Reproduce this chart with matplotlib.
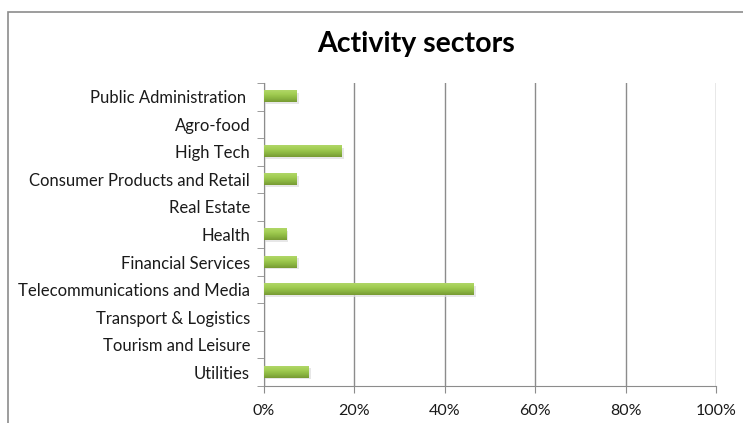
import matplotlib
matplotlib.use("Agg")
import matplotlib.pyplot as plt
import numpy as np
from matplotlib.patches import Rectangle
from matplotlib.colors import LinearSegmentedColormap
from matplotlib.ticker import PercentFormatter

categories = ["Public Administration ", "Agro-food", "High Tech", "Consumer Products and Retail",
              "Real Estate", "Health", "Financial Services", "Telecommunications and Media",
              "Transport & Logistics", "Tourism and Leisure", "Utilities"]
values = [7.3, 0, 17.1, 7.3, 0, 4.9, 7.3, 46.3, 0, 0, 9.8]
xticks = [0, 20, 40, 60, 80, 100]

plt.rcParams['font.family'] = ['Lato', 'DejaVu Sans']

W, H = 743, 423
fig = plt.figure(figsize=(W/100, H/100), dpi=100)
fig.patch.set_facecolor('white')
# outer chart frame
fig.patches.append(Rectangle((8/W, -0.1), 1.2, 1 - 12/H + 0.1, transform=fig.transFigure,
                             fill=False, edgecolor='#8c8c8c', linewidth=1.2))

ax = fig.add_axes([264/W, 1 - 386/H, (716-264)/W, (386-83)/H])
n = len(categories)
y = np.arange(n)[::-1]
bh = 0.4
bars = ax.barh(y, values, height=bh, color='none', zorder=3)

cmap = LinearSegmentedColormap.from_list('g', ['#779a33', '#8cb742', '#a2cd52', '#b0d768'])
grad = np.linspace(0, 1, 64).reshape(-1, 1)
for b in bars:
    w = b.get_width()
    if w <= 0:
        continue
    x0, y0, h = b.get_x(), b.get_y(), b.get_height()
    # shadow
    ax.add_patch(Rectangle((x0, y0 - 0.06), w + 0.5, h, facecolor='#dedede', edgecolor='none',
                           zorder=2, alpha=0.7))
    ax.imshow(grad, cmap=cmap, aspect='auto', extent=(x0, x0 + w, y0, y0 + h),
              origin='lower', zorder=3, interpolation='bilinear')

ax.set_xlim(0, 100)
ax.set_ylim(-0.5, n - 0.5)
ax.set_xticks(xticks)
ax.xaxis.set_major_formatter(PercentFormatter(decimals=0))
ax.set_yticks(y)
ax.set_yticklabels(categories)
ax.set_yticks(np.arange(-0.5, n, 1), minor=True)
ax.tick_params(axis='y', which='major', length=0, pad=10, labelsize=12, labelcolor='#1a1a1a')
ax.tick_params(axis='y', which='minor', length=5, color='#8c8c8c', direction='out')
ax.tick_params(axis='x', length=5, color='#8c8c8c', labelsize=11.5, labelcolor='#1a1a1a', pad=8)
ax.grid(axis='x', color='#8c8c8c', linewidth=1, zorder=0)
ax.set_axisbelow(True)
for s in ['top', 'right']:
    ax.spines[s].set_visible(False)
for s in ['left', 'bottom']:
    ax.spines[s].set_color('#8c8c8c')
ax.set_facecolor('none')

fig.text(416/W, 1 - 44/H, "Activity sectors", ha='center', va='center', fontsize=20.5,
         fontweight='bold', color='#000000')

fig.savefig('out.png', dpi=100)
